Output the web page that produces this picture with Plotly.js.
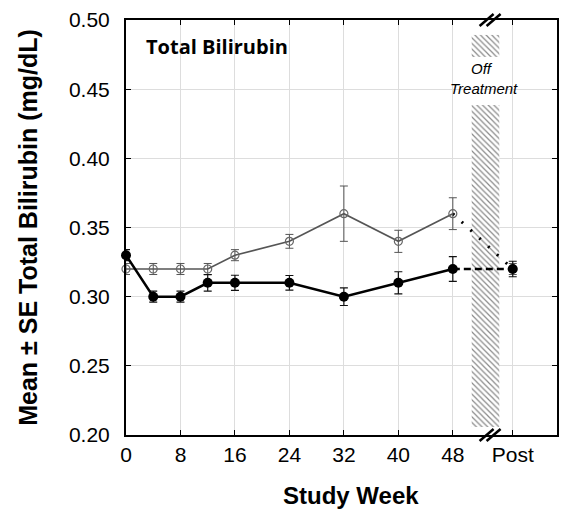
<!DOCTYPE html>
<html>
<head>
<meta charset="utf-8">
<script src="https://cdn.plot.ly/plotly-3.0.1.min.js"></script>
<style>html,body{margin:0;padding:0;background:#fff;}#chart{width:562px;height:510px;}</style>
</head>
<body>
<div id="chart"></div>
<script>
// ---- data ----
const weeks = [0, 4, 8, 12, 16, 24, 32, 40, 48];
const postWeek = 56.8;               // position of the "Post" visit on the x axis
const openMean = [0.32, 0.32, 0.32, 0.32, 0.33, 0.34, 0.36, 0.34, 0.36];
const openSE   = [0.004, 0.004, 0.004, 0.004, 0.004, 0.005, 0.02, 0.008, 0.0115];
const openPostMean = 0.32;
const openPostSE = 0.004;
const filledMean = [0.33, 0.30, 0.30, 0.31, 0.31, 0.31, 0.30, 0.31, 0.32];
const filledSE   = [0.004, 0.004, 0.004, 0.006, 0.0055, 0.0053, 0.0064, 0.008, 0.009];
const filledPostMean = 0.32;
const filledPostSE = 0.0056;
const tickVals = [0, 8, 16, 24, 32, 40, 48, postWeek];
const tickText = ['0', '8', '16', '24', '32', '40', '48', 'Post'];
const yTicks = [0.20, 0.25, 0.30, 0.35, 0.40, 0.45, 0.50];
// off-treatment band (x centre / width in weeks; y extents of the two hatched blocks)
const offX = 52.8, offW = 4.05;
const offBlocks = [[0.4733, 0.4892], [0.2058, 0.4386]];
const breakWeek = 53.4;

const lastW = weeks[weeks.length - 1];
const traces = [];

// hatched off-treatment blocks
offBlocks.forEach(b => {
  traces.push({
    type: 'bar', x: [offX], y: [b[1] - b[0]], base: [b[0]], width: [offW],
    marker: {color: '#ffffff', line: {width: 0},
      pattern: {shape: '\\', fgcolor: '#8a8a8a', bgcolor: '#ffffff', size: 4, solidity: 0.3}},
    hoverinfo: 'skip', showlegend: false
  });
});

// connectors to post visit
traces.push({
  type: 'scatter', mode: 'lines', x: [lastW, postWeek], y: [openMean[openMean.length-1], openPostMean],
  line: {color: '#000', width: 3, dash: '2px,10px'}, showlegend: false, cliponaxis: false, hoverinfo: 'skip'
});
traces.push({
  type: 'scatter', mode: 'lines', x: [lastW, postWeek], y: [filledMean[filledMean.length-1], filledPostMean],
  line: {color: '#000', width: 2.5, dash: '7px,4px'}, showlegend: false, cliponaxis: false, hoverinfo: 'skip'
});

// open (gray) series
traces.push({
  type: 'scatter', mode: 'lines+markers', x: weeks, y: openMean,
  error_y: {type: 'data', array: openSE, color: '#555', thickness: 1, width: 4},
  line: {color: '#555', width: 1.6},
  marker: {symbol: 'circle-open', size: 8, color: '#666', line: {width: 1.2, color: '#666'}},
  cliponaxis: false, showlegend: false
});
traces.push({
  type: 'scatter', mode: 'markers', x: [postWeek], y: [openPostMean],
  error_y: {type: 'data', array: [openPostSE], color: '#555', thickness: 1, width: 4},
  marker: {symbol: 'circle-open', size: 8, color: '#666', line: {width: 1.2, color: '#666'}},
  cliponaxis: false, showlegend: false
});

// filled (black) series
traces.push({
  type: 'scatter', mode: 'lines+markers', x: weeks, y: filledMean,
  error_y: {type: 'data', array: filledSE, color: '#111', thickness: 1.2, width: 4},
  line: {color: '#000', width: 2.5},
  marker: {symbol: 'circle', size: 10, color: '#000'},
  cliponaxis: false, showlegend: false
});
traces.push({
  type: 'scatter', mode: 'markers', x: [postWeek], y: [filledPostMean],
  error_y: {type: 'data', array: [filledPostSE], color: '#111', thickness: 1.2, width: 4},
  marker: {symbol: 'circle', size: 10, color: '#000'},
  cliponaxis: false, showlegend: false
});

function slash(yAnchor, dx) {
  return {type: 'line', xref: 'x', yref: 'paper', xsizemode: 'pixel', ysizemode: 'pixel',
    xanchor: breakWeek, yanchor: yAnchor, x0: dx - 7, x1: dx + 7, y0: -6, y1: 6,
    line: {color: '#000', width: 2.5}};
}

const layout = {
  width: 562, height: 510,
  margin: {l: 126, r: 5, t: 20, b: 75},
  paper_bgcolor: '#fff', plot_bgcolor: '#fff',
  font: {family: 'Liberation Sans, Arial, sans-serif', color: '#000'},
  barmode: 'overlay',
  xaxis: {
    range: [0, 63.3], tickmode: 'array', tickvals: tickVals, ticktext: tickText,
    ticks: 'inside', ticklen: 5, tickcolor: '#000', tickwidth: 1,
    showgrid: true, gridcolor: '#dddddd', gridwidth: 1, zeroline: false,
    showline: true, linecolor: '#000', linewidth: 2, mirror: 'ticks',
    tickfont: {size: 21}, ticklabelstandoff: 0, automargin: false
  },
  yaxis: {
    range: [0.20, 0.50], tickmode: 'array', tickvals: yTicks,
    ticktext: yTicks.map(v => v.toFixed(2)),
    ticks: 'inside', ticklen: 5, tickcolor: '#000', tickwidth: 1,
    showgrid: true, gridcolor: '#dddddd', gridwidth: 1, zeroline: false,
    showline: true, linecolor: '#000', linewidth: 2, mirror: 'ticks',
    tickfont: {size: 21}, ticklabelstandoff: 10, automargin: false,
    title: {text: '<b>Mean ± SE Total Bilirubin (mg/dL)</b>', font: {size: 25}, standoff: 24}
  },
  shapes: [slash(1, -3), slash(1, 4), slash(0, -3), slash(0, 4)],
  annotations: [
    {xref: 'paper', yref: 'paper', x: 0.522, y: -0.145, xanchor: 'center', yanchor: 'middle',
     text: '<b>Study Week</b>', showarrow: false, font: {size: 24, color: '#000'}},
    {xref: 'paper', yref: 'paper', x: 0.042, y: 0.935, xanchor: 'left', yanchor: 'middle',
     text: '<b>Total Bilirubin</b>', showarrow: false,
     font: {family: 'Open Sans, Noto Sans, sans-serif', size: 20, color: '#000'}},
    {xref: 'x', yref: 'paper', x: offX - 0.5, y: 0.882, xanchor: 'center', yanchor: 'middle',
     text: '<i>Off</i>', showarrow: false, font: {size: 15, color: '#000'}},
    {xref: 'x', yref: 'paper', x: offX - 0.2, y: 0.836, xanchor: 'center', yanchor: 'middle',
     text: '<i>Treatment</i>', showarrow: false, font: {size: 15, color: '#000'}}
  ]
};

Plotly.newPlot('chart', traces, layout, {displayModeBar: false, staticPlot: true});
</script>
</body>
</html>
